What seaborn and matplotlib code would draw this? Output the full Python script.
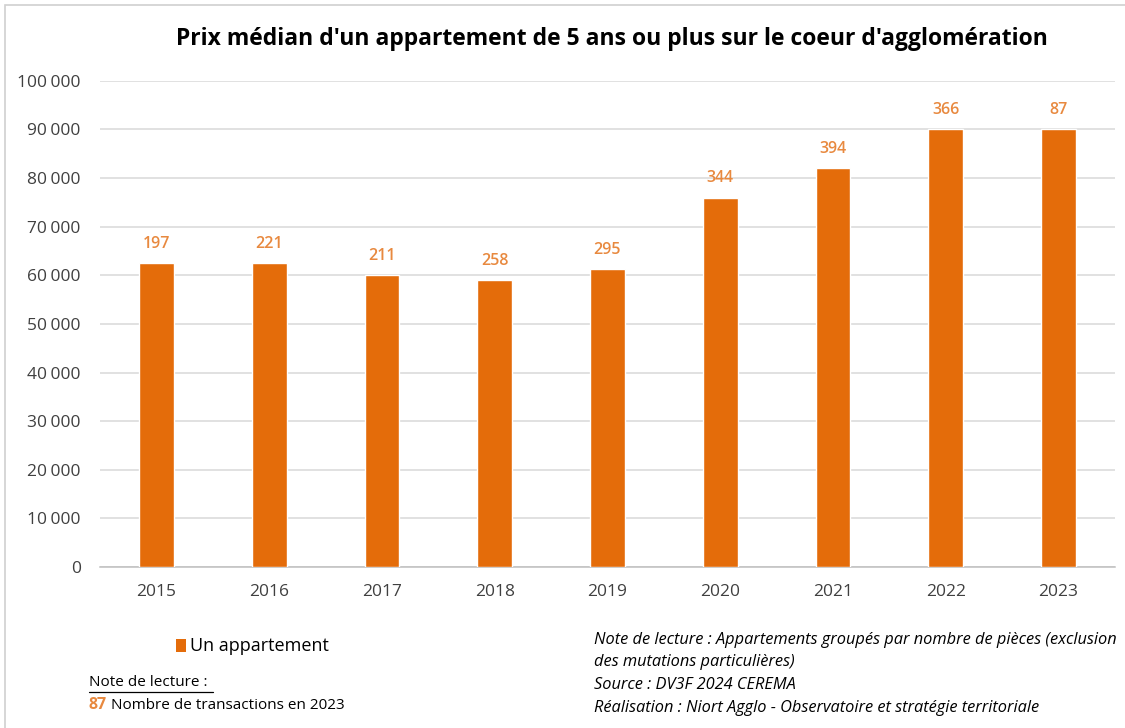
import matplotlib
matplotlib.use("Agg")
import matplotlib.pyplot as plt
from matplotlib.patches import Rectangle
from matplotlib.lines import Line2D
import seaborn as sns
import pandas as pd

years = ["2015", "2016", "2017", "2018", "2019", "2020", "2021", "2022", "2023"]
median_price = [62500, 62500, 60000, 59000, 61250, 76000, 82000, 90000, 90000]
transactions = [197, 221, 211, 258, 295, 344, 394, 366, 87]
y_ticks = [0, 10000, 20000, 30000, 40000, 50000, 60000, 70000, 80000, 90000, 100000]

BAR = "#E46C0A"
LABEL = "#E8893F"
TEXT = "#404040"
FONT = ["Open Sans", "DejaVu Sans"]

sns.set_theme(style="white")
plt.rcParams["font.family"] = FONT

df = pd.DataFrame({"annee": years, "prix": median_price})

fig = plt.figure(figsize=(11.25, 7.28), dpi=100)
ax = fig.add_axes([0.089, 0.221, 0.902, 0.668])

sns.barplot(data=df, x="annee", y="prix", color=BAR, width=0.31,
            saturation=1, ax=ax, zorder=3)

ax.set_ylim(0, 100000)
ax.set_xlim(-0.5, len(years) - 0.5)
ax.set_yticks(y_ticks)
ax.set_yticklabels([f"{v:,}".replace(",", "\u202f") if v else "0" for v in y_ticks],
                   family=FONT, fontsize=12.5, color=TEXT)
ax.set_xticks(range(len(years)))
ax.set_xticklabels(years, family=FONT, fontsize=12.5, color=TEXT)
ax.tick_params(axis="y", length=0, pad=14)
ax.tick_params(axis="x", length=0, pad=12)
ax.set_xlabel("")
ax.set_ylabel("")
ax.yaxis.grid(True, color="#D9D9D9", linewidth=1.1, zorder=0)
ax.xaxis.grid(False)
for side in ["top", "right", "left"]:
    ax.spines[side].set_visible(False)
ax.spines["bottom"].set_color("#BFBFBF")
ax.spines["bottom"].set_linewidth(1.1)

# transaction counts above each bar
for i, (v, n) in enumerate(zip(median_price, transactions)):
    ax.annotate(str(n), xy=(i, v), xytext=(0, 8), textcoords="offset points",
                ha="center", va="bottom", color=LABEL, fontsize=11.5,
                fontweight="semibold", family=FONT)

fig.text(0.544, 0.946, "Prix médian d'un appartement de 5 ans ou plus sur le coeur d'agglomération",
         ha="center", va="center", fontsize=16.5, fontweight="bold", color="#000000",
         family=FONT)

# legend
fig.patches.append(Rectangle((0.156, 0.105), 0.009, 0.017, transform=fig.transFigure,
                             facecolor=BAR, edgecolor="none"))
fig.text(0.169, 0.113, "Un appartement", ha="left", va="center", fontsize=13,
         color="#000000", family=FONT)

# reading note, bottom left
fig.text(0.079, 0.063, "Note de lecture :", ha="left", va="center", fontsize=11,
         color="#000000", family=FONT)
fig.lines.append(Line2D([0.079, 0.189], [0.050, 0.050], transform=fig.transFigure,
                        color="#000000", linewidth=0.9))
fig.text(0.079, 0.031, "87", ha="left", va="center", fontsize=11.5, fontweight="bold",
         color=LABEL, family=FONT)
fig.text(0.099, 0.031, "Nombre de transactions en 2023", ha="left", va="center",
         fontsize=11, color="#000000", family=FONT)

# sources, bottom right
notes = [
    "Note de lecture : Appartements groupés par nombre de pièces (exclusion",
    "des mutations particulières)",
    "Source : DV3F 2024 CEREMA",
    "Réalisation : Niort Agglo - Observatoire et stratégie territoriale",
]
for k, line in enumerate(notes):
    fig.text(0.528, 0.121 - k * 0.031, line, ha="left", va="center", fontsize=11.8,
             style="italic", color="#000000", family=FONT)

# thin frame around the chart
fig.patches.append(Rectangle((0.004, -0.01), 1.0, 1.003, transform=fig.transFigure,
                             facecolor="none", edgecolor="#D0D0D0", linewidth=1.2))

fig.savefig("out.png", dpi=100)
